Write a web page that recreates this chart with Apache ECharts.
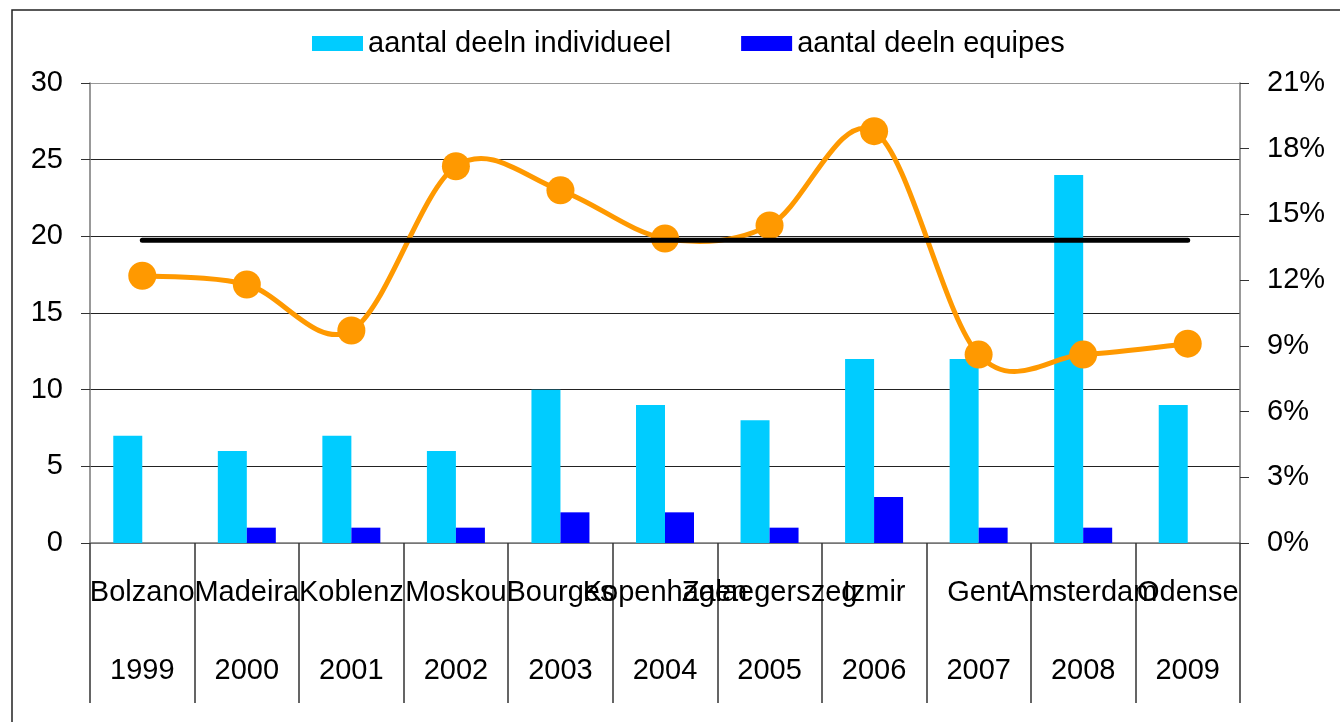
<!DOCTYPE html>
<html lang="nl">
<head>
    <meta charset="UTF-8">
    <title>Deelnemers</title>
    <script src="https://cdn.jsdelivr.net/npm/echarts@6/dist/echarts.min.js"></script>
    <style>
        html, body { margin: 0; padding: 0; background: #fff; }
        #main { width: 1340px; height: 722px; }
    </style>
</head>
<body>
<div id="main"></div>
<script type="text/javascript">
// categories (city + year)
let cities = ['Bolzano', 'Madeira', 'Koblenz', 'Moskou', 'Bourges', 'Kopenhagen', 'Zalaegerszeg', 'Izmir', 'Gent', 'Amsterdam', 'Odense'];
let years = ['1999', '2000', '2001', '2002', '2003', '2004', '2005', '2006', '2007', '2008', '2009'];

// bars, left axis
let individueel = [7, 6, 7, 6, 10, 9, 8, 12, 12, 24, 9];
let equipes = [0, 1, 1, 1, 2, 2, 1, 3, 1, 1, 0];

// orange line, right axis (percent)
let percentage = [12.2, 11.8, 9.7, 17.2, 16.1, 13.9, 14.5, 18.8, 8.6, 8.6, 9.1];

// black horizontal line, left axis
let gemiddeld = [19.75, 19.75, 19.75, 19.75, 19.75, 19.75, 19.75, 19.75, 19.75, 19.75, 19.75];

let font = 'Liberation Sans, Arial, sans-serif';
let myChart = echarts.init(document.getElementById('main'));

// excel-like smoothed line (catmull-rom, 1/6 tension), one segment per point
function renderCurve(params, api) {
    let i = params.dataIndex;
    let n = percentage.length;
    if (i >= n - 1) return null;
    let p = function (k) {
        k = Math.max(0, Math.min(n - 1, k));
        return api.coord([k, percentage[k]]);
    };
    let p0 = p(i - 1), p1 = p(i), p2 = p(i + 1), p3 = p(i + 2);
    return {
        type: 'bezierCurve',
        shape: {
            x1: p1[0], y1: p1[1], x2: p2[0], y2: p2[1],
            cpx1: p1[0] + (p2[0] - p0[0]) / 6, cpy1: p1[1] + (p2[1] - p0[1]) / 6,
            cpx2: p2[0] - (p3[0] - p1[0]) / 6, cpy2: p2[1] - (p3[1] - p1[1]) / 6
        },
        style: { stroke: '#FF9900', lineWidth: 5, fill: 'none' }
    };
}

let option = {
    animation: false,
    textStyle: { fontFamily: font },
    graphic: [{
        type: 'polyline',
        shape: { points: [[12, 722], [12, 10], [1340, 10]] },
        style: { stroke: '#222', lineWidth: 1.5, fill: null },
        silent: true
    }],
    legend: {
        left: 307,
        top: 24,
        itemWidth: 51,
        itemHeight: 15,
        itemGap: 70,
        icon: 'rect',
        data: ['aantal deeln individueel', 'aantal deeln equipes'],
        textStyle: { fontSize: 29, color: '#000', fontFamily: font }
    },
    grid: { left: 90, right: 100, top: 83, bottom: 179 },
    xAxis: [{
        type: 'category',
        data: cities,
        position: 'bottom',
        axisLine: { lineStyle: { color: '#777', width: 1.5 } },
        axisTick: { show: true, length: 160, inside: false, lineStyle: { color: '#333', width: 1.5 } },
        axisLabel: { interval: 0, margin: 35, fontSize: 29, color: '#000', fontFamily: font, hideOverlap: false }
    }, {
        type: 'category',
        data: years,
        position: 'bottom',
        axisLine: { show: false },
        axisTick: { show: false },
        axisLabel: { interval: 0, margin: 113, fontSize: 29, color: '#000', fontFamily: font }
    }],
    yAxis: [{
        type: 'value',
        min: 0,
        max: 30,
        interval: 5,
        axisLine: { show: true, lineStyle: { color: '#777', width: 1.5 } },
        axisTick: { show: true, length: 9, lineStyle: { color: '#333' } },
        axisLabel: { margin: 27, fontSize: 29, color: '#000', fontFamily: font },
        splitLine: { show: true, lineStyle: { color: ['#777', '#222', '#222', '#222', '#222', '#222', '#999'], width: 1.2 } }
    }, {
        type: 'value',
        min: 0,
        max: 21,
        interval: 3,
        position: 'right',
        axisLine: { show: true, lineStyle: { color: '#777', width: 1.5 } },
        axisTick: { show: true, length: 9, lineStyle: { color: '#333' } },
        axisLabel: { margin: 27, fontSize: 29, color: '#000', fontFamily: font, formatter: '{value}%' },
        splitLine: { show: false }
    }],
    series: [
        {
            name: 'aantal deeln individueel',
            type: 'bar',
            data: individueel,
            barWidth: 29,
            barGap: '0%',
            itemStyle: { color: '#00CCFF' }
        },
        {
            name: 'aantal deeln equipes',
            type: 'bar',
            data: equipes,
            barWidth: 29,
            itemStyle: { color: '#0000FF' }
        },
        {
            name: 'percentage lijn',
            type: 'custom',
            yAxisIndex: 1,
            data: percentage.map(function (v, i) { return [i, v]; }),
            encode: { x: 0, y: 1 },
            renderItem: renderCurve,
            z: 3,
            silent: true
        },
        {
            name: 'percentage',
            type: 'scatter',
            yAxisIndex: 1,
            data: percentage,
            symbol: 'circle',
            symbolSize: 28,
            z: 3,
            itemStyle: { color: '#FF9900', opacity: 1 }
        },
        {
            name: 'gemiddeld',
            type: 'line',
            data: gemiddeld,
            showSymbol: false,
            symbol: 'none',
            z: 4,
            lineStyle: { color: '#000', width: 5, cap: 'round' }
        }
    ]
};
myChart.setOption(option);
</script>
</body>
</html>
